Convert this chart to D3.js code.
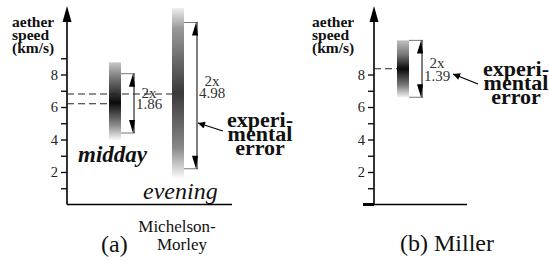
<!DOCTYPE html>
<html>
<head>
<meta charset="utf-8">
<script src="https://cdn.jsdelivr.net/npm/d3@7"></script>
<style>
  body { margin: 0; background: #fff; }
  svg { display: block; }
  text { font-family: "Liberation Serif", "Times New Roman", serif; }
</style>
</head>
<body>
<div id="chart"></div>
<script>
// data (aether speed, km/s)
var mmSeries = ["midday", "evening"];
var mmCentre = [6.2, 6.8];
var mmBarLow = [3.95, 1.6];
var mmBarHigh = [8.75, 12.1];
var mmErrLow = [4.4, 2.2];
var mmErrHigh = [8.05, 11.2];
var mmErrText = ["1.86", "4.98"];

var millerSeries = ["Miller"];
var millerCentre = [8.35];
var millerBarLow = [6.6];
var millerBarHigh = [10.1];
var millerErrLow = [6.6];
var millerErrHigh = [10.1];
var millerErrText = ["1.39"];

var tickLabels = [2, 4, 6, 8];
var mmTicks = [1, 2, 3, 4, 5, 6, 7, 8, 9];
var millerTicks = [1, 2, 3, 4, 5, 6, 7, 8];

var serif = "Liberation Serif";
var width = 549, height = 264;
var svg = d3.select("#chart").append("svg")
  .attr("width", width).attr("height", height)
  .attr("font-family", serif);

var y = d3.scaleLinear().domain([0, 12]).range([204.5, 9.5]);

var defs = svg.append("defs");
function grad(id, stops) {
  var g = defs.append("linearGradient").attr("id", id)
    .attr("x1", 0).attr("y1", 0).attr("x2", 0).attr("y2", 1);
  stops.forEach(function(s) {
    g.append("stop").attr("offset", s[0]).attr("stop-color", s[1]);
  });
}
grad("g-midday", [[0, "#c8c8c8"], [0.2, "#777"], [0.52, "#0a0a0a"], [0.8, "#888"], [1, "#fafafa"]]);
grad("g-evening", [[0, "#f0f0f0"], [0.12, "#999"], [0.5, "#3a3a3a"], [0.82, "#888"], [1, "#fcfcfc"]]);
grad("g-Miller", [[0, "#c0c0c0"], [0.25, "#777"], [0.5, "#0a0a0a"], [0.78, "#777"], [1, "#f2f2f2"]]);

defs.append("marker").attr("id", "arr")
  .attr("viewBox", "0 0 10 10").attr("refX", 10).attr("refY", 5)
  .attr("markerWidth", 11).attr("markerHeight", 7)
  .attr("markerUnits", "userSpaceOnUse")
  .attr("orient", "auto")
  .append("path").attr("d", "M0,0 L10,5 L0,10 z").attr("fill", "#000");

function yAxis(x0, ticks, labelX) {
  var g = svg.append("g").attr("transform", "translate(" + x0 + ",0)");
  var ax = d3.axisLeft(y).tickValues(ticks).tickSize(6).tickPadding(3)
    .tickFormat(function(d) { return tickLabels.indexOf(d) >= 0 ? d : ""; });
  g.call(ax);
  g.attr("font-family", serif).attr("font-size", 14.5);
  g.select(".domain").remove();
  g.selectAll(".tick line").attr("stroke", "#000").attr("stroke-width", 1.3);
  g.selectAll(".tick text").attr("fill", "#222");
  // axis line with arrow head
  svg.append("line").attr("x1", x0).attr("x2", x0).attr("y1", y(0)).attr("y2", 18)
    .attr("stroke", "#000").attr("stroke-width", 1.6);
  svg.append("path")
    .attr("d", "M" + (x0 - 4.5) + ",22 L" + x0 + ",6 L" + (x0 + 4.5) + ",22 z")
    .attr("fill", "#000");
  var t = svg.append("text").attr("font-weight", "bold").attr("font-size", 15.5).attr("fill", "#111");
  ["aether", "speed", "(km/s)"].forEach(function(s, i) {
    t.append("tspan").attr("x", labelX).attr("y", 27 + i * 13).text(s);
  });
}

function panel(series, centre, barLow, barHigh, errLow, errHigh, errText, x, x0, dashTo, labOff) {
  series.forEach(function(name, i) {
    var cx = x(name), bw = 12;
    // dashed level line
    svg.append("line")
      .attr("x1", x0).attr("x2", dashTo[i]).attr("y1", y(centre[i])).attr("y2", y(centre[i]))
      .attr("stroke", "#222").attr("stroke-width", 1.1).attr("stroke-dasharray", "7,4");
    svg.append("rect")
      .attr("x", cx - bw / 2).attr("width", bw)
      .attr("y", y(barHigh[i])).attr("height", y(barLow[i]) - y(barHigh[i]))
      .attr("fill", "url(#g-" + name + ")");
    var bx = cx + bw / 2 + 13;
    [errLow[i], errHigh[i]].forEach(function(v) {
      svg.append("line").attr("x1", cx + bw / 2).attr("x2", bx + 1)
        .attr("y1", y(v)).attr("y2", y(v)).attr("stroke", "#777").attr("stroke-width", 1);
    });
    svg.append("line").attr("x1", bx).attr("x2", bx)
      .attr("y1", y(errHigh[i])).attr("y2", y(errLow[i]))
      .attr("stroke", "#000").attr("stroke-width", 1);
    var yt = y(errHigh[i]), yb = y(errLow[i]);
    svg.append("path").attr("d", "M" + (bx - 5) + "," + (yt + 13) + " L" + (bx - 1) + "," + yt + " L" + (bx + 1) + "," + (yt + 13) + " z").attr("fill", "#000");
    svg.append("path").attr("d", "M" + (bx - 5) + "," + (yb - 13) + " L" + (bx - 1) + "," + yb + " L" + (bx + 1) + "," + (yb - 13) + " z").attr("fill", "#000");
    var tx = bx + 15, ty = y(centre[i]);
    var lt = svg.append("text").attr("text-anchor", "middle").attr("font-size", 15)
      .attr("fill", "#333");
    lt.append("tspan").attr("x", tx).attr("y", ty + labOff[i][0]).text("2x");
    lt.append("tspan").attr("x", tx).attr("y", ty + labOff[i][1]).text(errText[i]);
  });
}

function callout(cx, ty, tipX, tipY, fromX, fromY) {
  var t = svg.append("text").attr("text-anchor", "middle").attr("font-weight", "bold")
    .attr("font-size", 22).attr("fill", "#111");
  ["experi-", "mental", "error"].forEach(function(s, i) {
    t.append("tspan").attr("x", cx).attr("y", ty + i * 14).text(s);
  });
  svg.append("line").attr("x1", fromX).attr("y1", fromY).attr("x2", tipX).attr("y2", tipY)
    .attr("stroke", "#000").attr("stroke-width", 1.2).attr("marker-end", "url(#arr)");
}

// (a) Michelson-Morley
var xa = d3.scalePoint().domain(mmSeries).range([115, 178]);
svg.append("line").attr("x1", 67).attr("x2", 232).attr("y1", y(0)).attr("y2", y(0))
  .attr("stroke", "#000").attr("stroke-width", 1.6);
yAxis(67, mmTicks, 12);
panel(mmSeries, mmCentre, mmBarLow, mmBarHigh, mmErrLow, mmErrHigh, mmErrText, xa, 67,
  [109, 172], [[-6, 5], [-8, 4]]);
svg.append("text").attr("x", 78).attr("y", 162).attr("font-size", 23)
  .attr("font-weight", "bold").attr("font-style", "italic").attr("fill", "#111").text("midday");
svg.append("text").attr("x", 143).attr("y", 199).attr("font-size", 24)
  .attr("font-style", "italic").attr("fill", "#111").text("evening");
callout(260, 127, 198, 123, 223, 131);
svg.append("text").attr("x", 101).attr("y", 252).attr("font-size", 24).attr("fill", "#111").text("(a)");
svg.append("text").attr("x", 177).attr("y", 232).attr("font-size", 17).attr("text-anchor", "middle")
  .attr("fill", "#111").text("Michelson-");
svg.append("text").attr("x", 182).attr("y", 250).attr("font-size", 17).attr("text-anchor", "middle")
  .attr("fill", "#111").text("Morley");

// (b) Miller
var xb = d3.scalePoint().domain(millerSeries).range([403, 403]);
svg.append("line").attr("x1", 374).attr("x2", 467).attr("y1", y(0)).attr("y2", y(0))
  .attr("stroke", "#000").attr("stroke-width", 1.6);
svg.append("line").attr("x1", 363).attr("x2", 374).attr("y1", y(0)).attr("y2", y(0))
  .attr("stroke", "#000").attr("stroke-width", 3);
yAxis(374, millerTicks, 312);
panel(millerSeries, millerCentre, millerBarLow, millerBarHigh, millerErrLow, millerErrHigh, millerErrText, xb, 374,
  [397], [[-1, 12]]);
callout(516, 76, 453, 74, 478, 84);
svg.append("text").attr("x", 400).attr("y", 251).attr("font-size", 24).attr("fill", "#111").text("(b) Miller");
</script>
</body>
</html>
